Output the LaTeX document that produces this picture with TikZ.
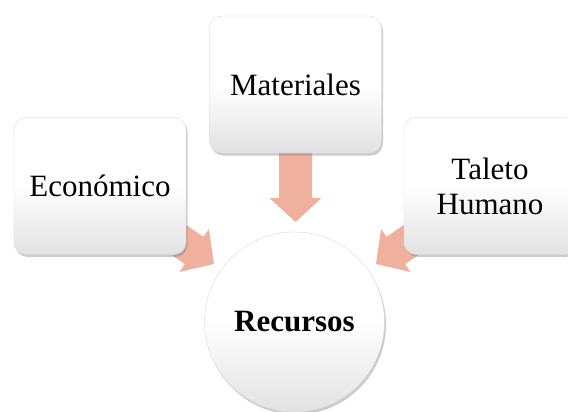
\documentclass[tikz,border=0pt]{standalone}
\usepackage{fontspec}
\setmainfont{Liberation Serif}
\usetikzlibrary{calc,shadows}
\definecolor{arrowc}{RGB}{239,176,158}
\definecolor{boxbot}{RGB}{226,226,226}
\definecolor{boxedge}{RGB}{215,215,215}
\newcommand\fatarrowshape[2]{%
  \path coordinate (fatB) at ($(#2)!24pt!(#1)$);
  \fill[arrowfill] ($(#1)!16.5pt!90:(#2)$) -- ($(fatB)!16.5pt!90:(#2)$) -- ($(fatB)!26pt!90:(#2)$) -- (#2)
    -- ($(fatB)!26pt!-90:(#2)$) -- ($(fatB)!16.5pt!-90:(#2)$) -- ($(#1)!16.5pt!-90:(#2)$) -- cycle;}
\begin{document}
\begin{tikzpicture}[x=1pt,y=-1pt,
  shade3/.style={top color=white, bottom color=boxbot, middle color=white},
  box/.style={rounded corners=12pt, minimum width=172pt, minimum height=137pt,
    shade3, draw=boxedge, line width=0.4pt,
    drop shadow={opacity=0.4, shadow xshift=1.5pt, shadow yshift=-2.5pt},
    font=\fontsize{31}{35}\selectfont, align=center, inner sep=0pt},
  circ/.style={circle, minimum size=180pt, inner sep=0pt,
    shade3, draw=boxedge, line width=0.4pt,
    drop shadow={opacity=0.4, shadow xshift=1.5pt, shadow yshift=-2.5pt},
    font=\fontsize{31}{35}\selectfont\bfseries},
  arrowfill/.style={fill=arrowc}]
\useasboundingbox (0,0) rectangle (568,412);
\clip (0,0) rectangle (568,412);
\coordinate (eco) at (100,186);
\coordinate (mat) at (295.5,84.5);
\coordinate (tal) at (490,186);
\coordinate (t1) at (214,264);
\coordinate (t2) at (295.5,222);
\coordinate (t3) at (376,264);
\fatarrowshape{eco}{t1}
\fatarrowshape{mat}{t2}
\fatarrowshape{tal}{t3}
\node[box] (ecob) at (eco) {Económico};
\node[box] (matb) at (mat) {Materiales};
\node[box] (talb) at (tal) {Taleto\\Humano};
\node[circ] (rec) at (294.5,322) {Recursos};
\end{tikzpicture}
\end{document}
